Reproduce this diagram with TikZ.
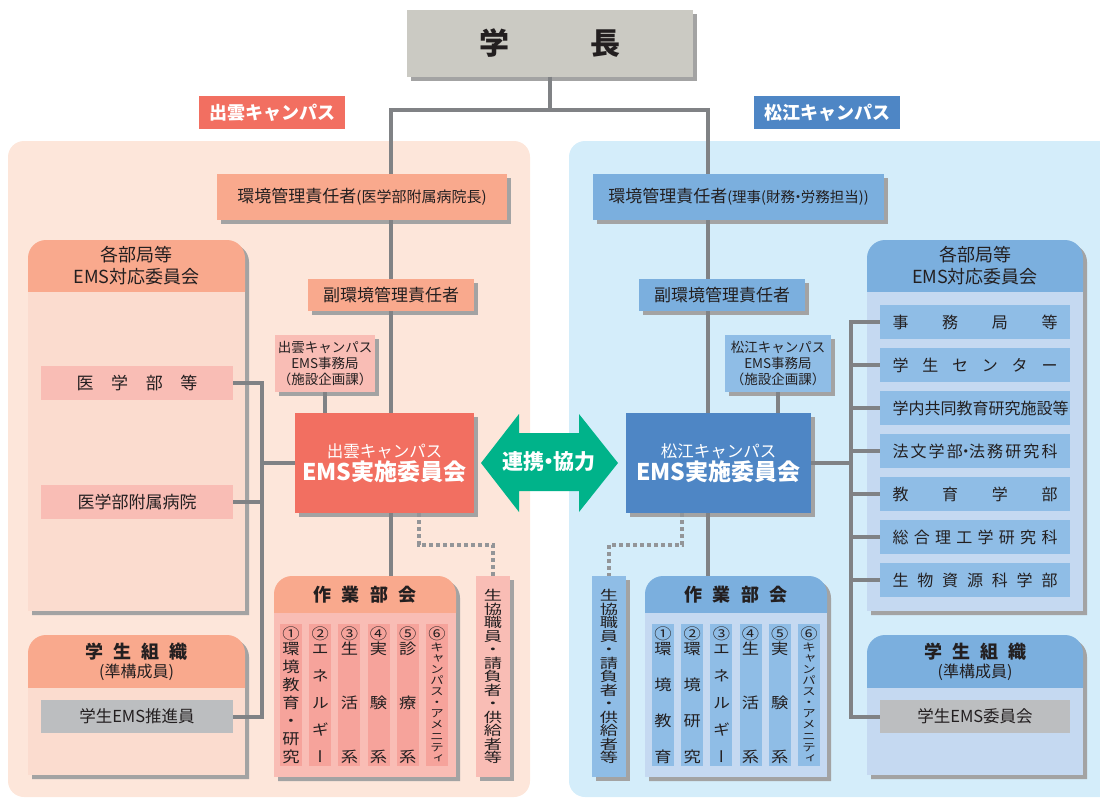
\documentclass[tikz,border=0pt]{standalone}
\usepackage{graphicx}
\usepackage{fontspec}
\setmainfont{Noto Sans CJK JP}
\newfontfamily\vertfont[RawFeature=+vert]{Noto Sans CJK JP}
\usetikzlibrary{shadows}
\definecolor{tx}{HTML}{231F20}
\definecolor{connc}{HTML}{808285}
\definecolor{dotc}{HTML}{939598}
\definecolor{gakuc}{HTML}{CBCAC3}
\definecolor{redc}{HTML}{F26F61}
\definecolor{salm}{HTML}{F9A98D}
\definecolor{peach}{HTML}{FDE6DA}
\definecolor{pbody}{HTML}{FBDCCF}
\definecolor{pink}{HTML}{F9BDB5}
\definecolor{pinkd}{HTML}{F6A39B}
\definecolor{bluec}{HTML}{4E86C5}
\definecolor{bhdr}{HTML}{7BAFDE}
\definecolor{lblue}{HTML}{D4EDFA}
\definecolor{bbody}{HTML}{C5D9F1}
\definecolor{bitem}{HTML}{8FBDE6}
\definecolor{grn}{HTML}{00B38A}
\definecolor{grayb}{HTML}{BCBEC0}
\definecolor{shd}{HTML}{A3A3A3}
\newcommand\fsz[1]{\fontsize{#1}{#1}\selectfont}
\newcommand\nd{\kern-.3em・\kern-.3em}
\newcommand\vsx{1.15}
\newcommand\Vg[1]{\hbox to 22pt{\hss\vrule height .88em depth .12em width 0pt\relax\scalebox{\vsx}[1]{#1}\hss}}
\newcommand\Vh[1]{\hbox to 22pt{\hss\fsz{11}\vrule height .88em depth .12em width 0pt\relax\scalebox{1.25}[1]{#1}\hss}}
\newcommand\Vf{\vfill}
\newcommand\vcol[2][15]{{\vertfont\fsz{#1}\vbox to 136pt{\offinterlineskip #2}}}
\newcommand\spr[2]{\hbox to #1{#2}}
\newcommand\drawpanel[7]{%
  \fill[shd,rounded corners=18pt] (#1+4,#4+4) -- (#1+4,#2+4) -- (#3+4,#2+4) -- (#3+4,#4+4);
  \fill[#6,rounded corners=18pt] (#1,#5) -- (#1,#2) -- (#3,#2) -- (#3,#5);
  \fill[#7] (#1,#5) rectangle (#3,#4);}
\newcommand\seikyotext{{\vertfont\fsz{13.5}\renewcommand\vsx{1.35}\vbox{\offinterlineskip\Vg{生}\Vg{協}\Vg{職}\Vg{員}\Vg{・}\Vg{請}\Vg{負}\Vg{者}\Vg{・}\Vg{供}\Vg{給}\Vg{者}\Vg{等}}}}
\begin{document}
\begin{tikzpicture}[x=1pt,y=-1pt,
  cline/.style={draw=connc,line width=4pt},
  dline/.style={draw=dotc,line width=4pt,dash pattern=on 4pt off 3pt},
  boxs/.style={rectangle,inner sep=0pt,text=tx},
  shad/.style={drop shadow={shadow xshift=4pt,shadow yshift=-4pt,fill=shd,opacity=1}},
  colL/.style={boxs,fill=pinkd,minimum width=22pt,minimum height=142pt},
  colR/.style={boxs,fill=bitem,minimum width=22pt,minimum height=142pt},
  itemR/.style={boxs,fill=bitem,minimum width=190pt,minimum height=34pt,font=\fsz{16}},
  itemL/.style={boxs,fill=pink,minimum width=192pt,minimum height=34pt,font=\fsz{17}},
  hdr/.style={boxs,align=center,font=\fontsize{18}{22}\selectfont},
]
\useasboundingbox (0,0) rectangle (1100,798);
\clip (0,0) rectangle (1100,798);
% campus backgrounds
\fill[peach,rounded corners=16pt] (8,141) rectangle (530,797);
\fill[lblue,rounded corners=16pt] (569,141) rectangle (1130,797);
% labels
\node[boxs,fill=redc,text=white,minimum width=146pt,minimum height=33pt] (labL) at (272,112.5) {\fsz{18}\bfseries 出雲キャンパス};
\node[boxs,fill=bluec,text=white,minimum width=146pt,minimum height=33pt] (labR) at (827,112.5) {\fsz{18}\bfseries 松江キャンパス};
% president
\node[boxs,shad,fill=gakuc,minimum width=286pt,minimum height=67pt] (gakucho) at (550,43) {\fsz{30}\bfseries 学\hspace{81pt}長};
% managers
\node[boxs,shad,fill=salm,minimum width=290pt,minimum height=46pt] (kankyoL) at (362,197) {{\fsz{17}環境管理責任者}{\fsz{15}(医学部附属病院長)}};
\node[boxs,shad,fill=bhdr,minimum width=291pt,minimum height=46pt] (kankyoR) at (738.5,197) {{\fsz{17}環境管理責任者}{\fsz{14.5}(理事(財務\nd 労務担当))}};
\node[boxs,shad,fill=salm,minimum width=166pt,minimum height=32pt] (fukuL) at (391,295) {\fsz{17}副環境管理責任者};
\node[boxs,shad,fill=bhdr,minimum width=166pt,minimum height=32pt] (fukuR) at (722,295) {\fsz{17}副環境管理責任者};
\node[boxs,shad,fill=pink,minimum width=100pt,minimum height=57pt,align=center,font=\fontsize{13.5}{16}\selectfont] (jimuL) at (325,363.5) {出雲キャンパス\\EMS事務局\\（施設企画課）};
\node[boxs,shad,fill=bitem,minimum width=106pt,minimum height=57pt,align=center,font=\fontsize{13.5}{16}\selectfont] (jimuR) at (778,363.5) {松江キャンパス\\EMS事務局\\（施設企画課）};
\node[boxs,shad,fill=redc,text=white,minimum width=179pt,minimum height=100pt,align=center,font=\fontsize{16.5}{20}\selectfont] (emsL) at (384.5,463) {出雲キャンパス\\[1pt]{\fsz{23}\bfseries EMS実施委員会}};
\node[boxs,shad,fill=bluec,text=white,minimum width=185pt,minimum height=100pt,align=center,font=\fontsize{16.5}{20}\selectfont] (emsR) at (718.5,463) {松江キャンパス\\[1pt]{\fsz{23}\bfseries EMS実施委員会}};
% cooperation arrow
\fill[grn] (481,463) -- (519,414) -- (519,433) -- (579,433) -- (579,414) -- (618,463) -- (579,512) -- (579,491) -- (519,491) -- (519,512) -- cycle;
\node[boxs,text=white] (link) at (549,462) {\fsz{21}\bfseries 連携\nd 協力};
% left panels
\drawpanel{28}{240}{245}{611}{292}{salm}{pbody}
\node[hdr] (kakuLh) at (136.5,266) {各部局等\\EMS対応委員会};
\node[itemL] (igakubu) at (137,382.5) {\spr{121pt}{医\hfill 学\hfill 部\hfill 等}};
\node[itemL] (fuzoku) at (137,501.5) {医学部附属病院};
\drawpanel{28}{635}{245}{775}{688}{salm}{pbody}
\node[boxs,align=center] (gakuLh) at (136.5,662) {{\fsz{18}\bfseries\spr{102pt}{学\hfill 生\hfill 組\hfill 織}}\\[3pt]{\fsz{16}(準構成員)}};
\node[boxs,fill=grayb,minimum width=192pt,minimum height=33pt,font=\fsz{16.5}] (suishin) at (137,716.5) {学生EMS推進員};
% left working group
\drawpanel{274}{576}{456}{777}{613}{salm}{pink}
\node[boxs,minimum width=182pt,minimum height=201pt] (sagyoL) at (365,676.5) {};
\node[boxs] (sagyoLh) at (365,595) {\fsz{18}\bfseries\spr{104pt}{作\hfill 業\hfill 部\hfill 会}};
\node[colL] (l1) at (291,695) {\vcol{\Vg{①}\Vg{環}\Vf\Vg{境}\Vf\Vg{教}\Vf\Vg{育}\Vf\Vg{・}\Vf\Vg{研}\Vf\Vg{究}}};
\node[colL] (l2) at (320.2,695) {\vcol{\Vg{②}\Vg{エ}\Vf\Vg{ネ}\Vf\Vg{ル}\Vf\Vg{ギ}\Vf\Vg{ー}}};
\node[colL] (l3) at (349.4,695) {\vcol{\Vg{③}\Vg{生}\Vf\Vg{活}\Vf\Vg{系}}};
\node[colL] (l4) at (378.6,695) {\vcol{\Vg{④}\Vg{実}\Vf\Vg{験}\Vf\Vg{系}}};
\node[colL] (l5) at (407.8,695) {\vcol{\Vg{⑤}\Vg{診}\Vf\Vg{療}\Vf\Vg{系}}};
\node[colL] (l6) at (437,695) {\vcol{\Vg{⑥}\Vh{キ}\Vf\Vh{ャ}\Vf\Vh{ン}\Vf\Vh{パ}\Vf\Vh{ス}\Vf\Vh{・}\Vf\Vh{ア}\Vf\Vh{メ}\Vf\Vh{ニ}\Vf\Vh{テ}\Vf\Vh{ィ}}};
\node[boxs,shad,fill=pink,minimum width=34pt,minimum height=201pt] (seikyoL) at (493,676.5) {\seikyotext};
% right panels
\drawpanel{867}{240}{1083}{611}{292}{bhdr}{bbody}
\node[hdr] (kakuRh) at (975,266) {各部局等\\EMS対応委員会};
\node[itemR] (r1) at (975,322) {\spr{165pt}{事\hfill 務\hfill 局\hfill 等}};
\node[itemR] (r2) at (975,365) {\spr{165pt}{学\hfill 生\hfill セ\hfill ン\hfill タ\hfill ー}};
\node[itemR] (r3) at (975,408) {\spr{165pt}{学\hfil 内\hfil 共\hfil 同\hfil 教\hfil 育\hfil 研\hfil 究\hfil 施\hfil 設\hfil 等}};
\node[itemR] (r4) at (975,451) {\spr{165pt}{法\hfil 文\hfil 学\hfil 部\nd 法\hfil 務\hfil 研\hfil 究\hfil 科}};
\node[itemR] (r5) at (975,494) {\spr{165pt}{教\hfill 育\hfill 学\hfill 部}};
\node[itemR] (r6) at (975,537) {\spr{165pt}{総\hfill 合\hfill 理\hfill 工\hfill 学\hfill 研\hfill 究\hfill 科}};
\node[itemR] (r7) at (975,580) {\spr{165pt}{生\hfill 物\hfill 資\hfill 源\hfill 科\hfill 学\hfill 部}};
\drawpanel{867}{635}{1083}{775}{688}{bhdr}{bbody}
\node[boxs,align=center] (gakuRh) at (975,662) {{\fsz{18}\bfseries\spr{102pt}{学\hfill 生\hfill 組\hfill 織}}\\[3pt]{\fsz{16}(準構成員)}};
\node[boxs,fill=grayb,minimum width=190pt,minimum height=33pt,font=\fsz{16.5}] (iinkai) at (975,716.5) {学生EMS委員会};
% right working group
\drawpanel{645}{576}{827}{777}{613}{bhdr}{bbody}
\node[boxs,minimum width=182pt,minimum height=201pt] (sagyoR) at (736,676.5) {};
\node[boxs] (sagyoRh) at (736,595) {\fsz{18}\bfseries\spr{104pt}{作\hfill 業\hfill 部\hfill 会}};
\node[colR] (m1) at (663,695) {\vcol{\Vg{①}\Vg{環}\Vf\Vg{境}\Vf\Vg{教}\Vf\Vg{育}}};
\node[colR] (m2) at (692.2,695) {\vcol{\Vg{②}\Vg{環}\Vf\Vg{境}\Vf\Vg{研}\Vf\Vg{究}}};
\node[colR] (m3) at (721.4,695) {\vcol{\Vg{③}\Vg{エ}\Vf\Vg{ネ}\Vf\Vg{ル}\Vf\Vg{ギ}\Vf\Vg{ー}}};
\node[colR] (m4) at (750.6,695) {\vcol{\Vg{④}\Vg{生}\Vf\Vg{活}\Vf\Vg{系}}};
\node[colR] (m5) at (779.8,695) {\vcol{\Vg{⑤}\Vg{実}\Vf\Vg{験}\Vf\Vg{系}}};
\node[colR] (m6) at (809,695) {\vcol{\Vg{⑥}\Vh{キ}\Vf\Vh{ャ}\Vf\Vh{ン}\Vf\Vh{パ}\Vf\Vh{ス}\Vf\Vh{・}\Vf\Vh{ア}\Vf\Vh{メ}\Vf\Vh{ニ}\Vf\Vh{テ}\Vf\Vh{ィ}}};
\node[boxs,shad,fill=bitem,minimum width=34pt,minimum height=201pt] (seikyoR) at (609,676.5) {\seikyotext};
% connectors
\coordinate (jL) at (391,110);
\coordinate (jR) at (708,110);
\draw[cline] (gakucho.south) -- (gakucho.south |- jL);
\draw[cline] (jL |- kankyoL.north) -- (jL) -- (jR) -- (jR |- kankyoR.north);
\draw[cline] (kankyoL.south -| jL) -- (fukuL.north -| jL);
\draw[cline] (fukuL.south -| jL) -- (emsL.north -| jL);
\draw[cline] (emsL.south -| jL) -- (sagyoL.north -| jL);
\draw[cline] (jimuL.south) -- (jimuL.south |- emsL.north);
\draw[cline] (kankyoR.south -| jR) -- (fukuR.north -| jR);
\draw[cline] (fukuR.south -| jR) -- (emsR.north -| jR);
\draw[cline] (emsR.south -| jR) -- (sagyoR.north -| jR);
\draw[cline] (jimuR.south) -- (jimuR.south |- emsR.north);
\coordinate (dL) at (419,545);
\coordinate (dR) at (682,545);
\draw[dline] (emsL.south -| dL) -- (dL) -- (dL -| seikyoL.north) -- (seikyoL.north);
\draw[dline] (emsR.south -| dR) -- (dR) -- (dR -| seikyoR.north) -- (seikyoR.north);
\coordinate (busL) at (262,0);
\draw[cline] (igakubu.east) -- (igakubu.east -| busL) -- (suishin.east -| busL) -- (suishin.east);
\draw[cline] (fuzoku.east) -- (fuzoku.east -| busL);
\draw[cline] (emsL.west) -- (emsL.west -| busL);
\coordinate (busR) at (851,0);
\draw[cline] (r1.west) -- (r1.west -| busR) -- (iinkai.west -| busR) -- (iinkai.west);
\foreach \n in {r2,r3,r4,r5,r6,r7} \draw[cline] (\n.west) -- (\n.west -| busR);
\draw[cline] (emsR.east) -- (emsR.east -| busR);
\end{tikzpicture}
\end{document}
